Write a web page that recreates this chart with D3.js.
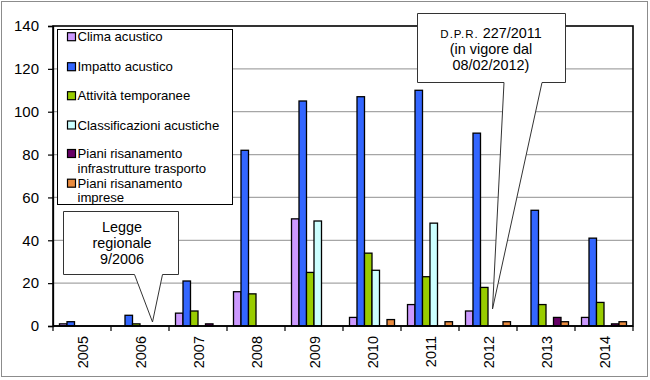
<!DOCTYPE html>
<html><head><meta charset="utf-8">
<script src="https://cdn.jsdelivr.net/npm/d3@7"></script>
<style>body{margin:0;background:#fff}svg{display:block;font-family:"Liberation Sans",Arial,sans-serif}</style>
</head><body><svg id="c" width="650" height="380"></svg>
<script>
const years = ["2005","2006","2007","2008","2009","2010","2011","2012","2013","2014"];
const seriesNames = ["Clima acustico","Impatto acustico","Attività temporanee","Classificazioni acustiche","Piani risanamento infrastrutture trasporto","Piani risanamento imprese"];
const legendLines = [["Clima acustico"],["Impatto acustico"],["Attività temporanee"],["Classificazioni acustiche"],["Piani risanamento","infrastrutture trasporto"],["Piani risanamento","imprese"]];
const colors = ["#CC99FF","#3366FF","#99CC00","#CCFFFF","#660066","#E98B3F"];
const clima = [1,0,6,16,50,4,10,7,0,4];
const impatto = [2,5,21,82,105,107,110,90,54,41];
const attivita = [0,1,7,15,25,34,23,18,10,11];
const classificazioni = [0,0,0,0,49,26,48,0,0,0];
const pianiInfra = [0,0,1,0,0,0,0,0,4,1];
const pianiImprese = [0,0,0,0,0,3,2,2,2,2];
const yTicks = [0,20,40,60,80,100,120,140];
const series = [clima,impatto,attivita,classificazioni,pianiInfra,pianiImprese];

const svg = d3.select("#c");
const L=53,R=633,T=26,B=326;

svg.append("rect").attr("x",1.5).attr("y",1.5).attr("width",646).attr("height",375)
  .attr("fill","#fff").attr("stroke","#8c8c8c").attr("stroke-width",1);

const y = d3.scaleLinear().domain([0,140]).range([B,T]);
const x0 = d3.scaleBand().domain(years).range([L,R]).paddingInner(13/58).paddingOuter(6.5/58);
const x1 = d3.scaleBand().domain(d3.range(series.length)).range([0,x0.bandwidth()]);

// gridlines
svg.append("g").selectAll("line").data(yTicks.filter(d=>d>0&&d<140)).join("line")
  .attr("x1",L).attr("x2",R).attr("y1",d=>y(d)).attr("y2",d=>y(d))
  .attr("stroke","#a6a6a6").attr("stroke-width",1.2);

// bars
const gb = svg.append("g");
series.forEach((vals,si)=>{
  gb.append("g").selectAll("rect").data(vals.map((v,i)=>({v,yr:years[i]})).filter(d=>d.v>0)).join("rect")
    .attr("x",d=>x0(d.yr)+x1(si)).attr("width",x1.bandwidth())
    .attr("y",d=>y(d.v)).attr("height",d=>B-y(d.v))
    .attr("fill",colors[si]).attr("stroke","#000").attr("stroke-width",1.3);
});

// plot frame
svg.append("rect").attr("x",L).attr("y",T).attr("width",R-L).attr("height",B-T)
  .attr("fill","none").attr("stroke","#000").attr("stroke-width",1.6);

// y axis
const ya = svg.append("g").attr("transform",`translate(${L},0)`)
  .call(d3.axisLeft(y).tickValues(yTicks).tickSize(5).tickPadding(9).tickFormat(d3.format("d")));
ya.select(".domain").attr("stroke","#000").attr("stroke-width",1.3);
ya.selectAll(".tick line").attr("stroke","#000").attr("stroke-width",1.2);
ya.selectAll("text").attr("font-size",15).attr("fill","#000").attr("font-family","Liberation Sans, Arial, sans-serif");

// x axis ticks at band boundaries
const bounds = years.map(d=>x0(d)-x0.step()*x0.paddingInner()/2).concat([R]);
svg.append("g").selectAll("line").data(bounds).join("line")
  .attr("x1",d=>d).attr("x2",d=>d).attr("y1",B).attr("y2",B+5)
  .attr("stroke","#000").attr("stroke-width",1.2);
svg.append("line").attr("x1",L).attr("x2",R).attr("y1",B).attr("y2",B).attr("stroke","#000").attr("stroke-width",1.5);
svg.append("g").selectAll("text").data(years).join("text")
  .attr("transform",d=>`translate(${x0(d)+x0.bandwidth()/2+1},336) rotate(-90)`)
  .attr("text-anchor","end").attr("dy","0.36em").attr("font-size",14.5).text(d=>d);

// legend
const lg = svg.append("g");
lg.append("rect").attr("x",57.5).attr("y",29.5).attr("width",175).attr("height",175)
  .attr("fill","#fff").attr("stroke","#000").attr("stroke-width",1);
const legY = [36.7,66.7,95.7,125,153.5,183.2];
legendLines.forEach((lines,i)=>{
  lg.append("rect").attr("x",67.5).attr("y",legY[i]-4).attr("width",8).attr("height",8)
    .attr("fill",colors[i]).attr("stroke","#000").attr("stroke-width",1.2);
  const t = lg.append("text").attr("x",77.5).attr("y",legY[i]).attr("font-size",13.2).attr("letter-spacing",-0.05);
  lines.forEach((ln,j)=>t.append("tspan").attr("x",77.5).attr("dy",j===0?"0.35em":"14.6").text(ln));
});

// callouts
function callout(pts, lines, cx, y0){
  svg.append("path").attr("d","M"+pts.map(p=>p.join(",")).join("L")+"Z")
    .attr("fill","#fff").attr("stroke","#333").attr("stroke-width",1);
  const t = svg.append("text").attr("text-anchor","middle").attr("font-size",14.4);
  lines.forEach((ln,j)=>t.append("tspan").attr("x",cx).attr("y",y0+j*16).text(ln));
  return t;
}
callout([[63.5,211.5],[178.5,211.5],[178.5,274.5],[162.5,274.5],[152.5,322],[134.5,274.5],[63.5,274.5]],
  ["Legge","regionale","9/2006"],122,232);
const t2 = callout([[417.5,13.5],[565.5,13.5],[565.5,82.5],[542,82.5],[492.5,309],[504,82.5],[417.5,82.5]],
  ["","(in vigore dal","08/02/2012)"],491,37.5);
const ts = t2.select("tspan");
ts.append("tspan").attr("font-size",11.5).attr("letter-spacing",1).text("D.P.R.");
ts.append("tspan").text(" 227/2011");
</script></body></html>
